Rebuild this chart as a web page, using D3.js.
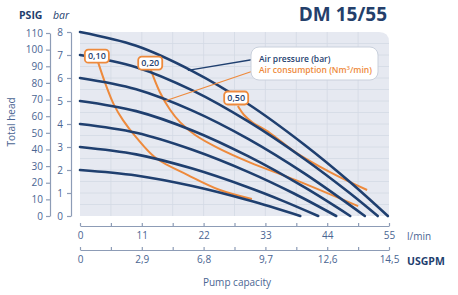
<!DOCTYPE html>
<html>
<head>
<meta charset="utf-8">
<script src="https://cdn.jsdelivr.net/npm/d3@7"></script>
<style>
  body { margin: 0; background: #fff; }
  svg { display: block; font-family: "Open Sans", "Noto Sans", sans-serif; }
</style>
</head>
<body>
<div id="chart"></div>
<script>
// ---------- data ----------
const barTicks = [0, 1, 2, 3, 4, 5, 6, 7, 8];
const psigTicks = [0, 10, 20, 30, 40, 50, 60, 70, 80, 90, 100, 110];
const lminTicks = [0, 11, 22, 33, 44, 55];
const usgpmLabels = ["0", "2,9", "6,8", "9,7", "12,6", "14,5"];

// air pressure curves (l/min, bar)
const p2 = [[0, 2], [10, 1.76], [20, 1.3], [30, 0.68], [39.2, 0]];
const p3 = [[0, 3], [10, 2.68], [20, 2.06], [30, 1.24], [36, 0.67], [42.4, 0]];
const p4 = [[0, 4], [10, 3.62], [20, 2.88], [30, 1.91], [38, 0.99], [45.6, 0]];
const p5 = [[0, 5], [10, 4.56], [20, 3.72], [30, 2.59], [40, 1.24], [48.1, 0]];
const p6 = [[0, 6], [10, 5.51], [20, 4.58], [30, 3.34], [40, 1.84], [50.7, 0]];
const p7 = [[0, 7], [10, 6.47], [20, 5.46], [30, 4.1], [40, 2.47], [48, 1.0], [53, 0]];
const p8 = [[0, 8], [10, 7.4], [20, 6.3], [30, 4.86], [40, 3.09], [48, 1.49], [54.8, 0]];
const pressureCurves = [p2, p3, p4, p5, p6, p7, p8];

// air consumption curves (Nm3/min)
const c010 = [[3.2, 6.7], [4.6, 5.7], [6.05, 4.83], [7.65, 4.17], [9.97, 3.43], [13.5, 2.52], [19.2, 1.78], [24.9, 1.13], [30.6, 0.74]];
const c020 = [[12.6, 6.35], [14.2, 5.39], [16.0, 4.63], [17.8, 4.08], [20.5, 3.52], [24.6, 2.95], [30.3, 2.32], [38.3, 1.57], [49.5, 0.43]];
const c050 = [[28.1, 4.78], [29.2, 4.39], [30.6, 4.09], [33.8, 3.61], [38.3, 2.78], [44.5, 1.91], [51.1, 1.13]];
const consumptionCurves = [c010, c020, c050];
const consumptionLabels = ["0,10", "0,20", "0,50"];
const consumptionLabelPos = [[3.0, 6.95], [12.5, 6.65], [27.8, 5.13]];

// ---------- layout ----------
const W = 458, H = 295;
const navy = "#1f3f6f", orange = "#ee8a3c", steel = "#4a6592", axisCol = "#8d9cb6";

const svg = d3.select("#chart").append("svg").attr("width", W).attr("height", H);

const x = d3.scaleLinear().domain([0, 55]).range([80, 389]);
const y = d3.scaleLinear().domain([0, 8]).range([216, 32]);
const yPsig = d3.scaleLinear().domain([0, 110]).range([216, 33]);

// plot background with rounded top-right corner
const x0 = x(0), x1 = x(55), yTop = y(8), yBot = y(0), r = 10;
svg.append("path")
  .attr("d", `M${x0},${yBot} V${yTop} H${x1 - r} Q${x1},${yTop} ${x1},${yTop + r} V${yBot} Z`)
  .attr("fill", "#e6e9f1");

// grid
const grid = svg.append("g").attr("stroke", "#d3d9e5").attr("stroke-width", 0.8);
grid.selectAll("line.v").data(d3.range(1, 10).map(i => i * 5.5)).enter().append("line")
  .attr("x1", d => x(d)).attr("x2", d => x(d)).attr("y1", yTop).attr("y2", yBot);
grid.selectAll("line.h").data(d3.range(1, 16).map(i => i * 0.5)).enter().append("line")
  .attr("x1", x0).attr("x2", x1).attr("y1", d => y(d)).attr("y2", d => y(d));

// curves
const line = d3.line().x(d => x(d[0])).y(d => y(d[1])).curve(d3.curveCatmullRom.alpha(0.5));

svg.append("g").selectAll("path").data(consumptionCurves).enter().append("path")
  .attr("d", line).attr("fill", "none").attr("stroke", orange).attr("stroke-width", 2);

svg.append("g").selectAll("path").data(pressureCurves).enter().append("path")
  .attr("d", line).attr("fill", "none").attr("stroke", navy).attr("stroke-width", 2.6)
  .attr("stroke-linecap", "round");

// consumption labels
const lab = svg.append("g").selectAll("g").data(consumptionLabels).enter().append("g")
  .attr("transform", (d, i) => `translate(${x(consumptionLabelPos[i][0])},${y(consumptionLabelPos[i][1])})`);
lab.append("rect").attr("x", -12).attr("y", -6.5).attr("width", 24).attr("height", 13).attr("rx", 3.5)
  .attr("fill", "#fff").attr("stroke", orange).attr("stroke-width", 1.8);
lab.append("text").text(d => d).attr("text-anchor", "middle").attr("dy", "0.35em")
  .attr("font-size", 9).attr("font-weight", 600).attr("fill", navy);

// legend with leader lines
svg.append("line").attr("x1", x(19.2)).attr("y1", y(6.33)).attr("x2", 256).attr("y2", 59)
  .attr("stroke", navy).attr("stroke-width", 1.3);
svg.append("line").attr("x1", x(15.1)).attr("y1", y(5.0)).attr("x2", 256).attr("y2", 70)
  .attr("stroke", orange).attr("stroke-width", 1.3);
svg.append("rect").attr("x", 251).attr("y", 47).attr("width", 127).attr("height", 33).attr("rx", 8)
  .attr("fill", "#fff").attr("stroke", "#c9d0dc").attr("stroke-width", 1);
svg.append("text").attr("x", 259).attr("y", 62).attr("font-size", 8.5).attr("font-weight", 600)
  .attr("fill", navy).text("Air pressure (bar)");
const t2 = svg.append("text").attr("x", 259).attr("y", 73).attr("font-size", 8.5).attr("font-weight", 600)
  .attr("fill", orange);
t2.append("tspan").text("Air consumption (Nm");
t2.append("tspan").attr("font-size", 6).attr("dy", -3).text("3");
t2.append("tspan").attr("dy", 3).text("/min)");

// y axes
function styleAxis(g) {
  g.select(".domain").attr("stroke", axisCol).attr("stroke-width", 1.2);
  g.selectAll(".tick line").attr("stroke", axisCol).attr("stroke-width", 1.2);
  g.selectAll(".tick text").attr("fill", steel).attr("font-size", 10)
    .attr("font-family", "'Open Sans', 'Noto Sans', sans-serif");
}
svg.append("g").attr("transform", "translate(71,0)")
  .call(d3.axisLeft(y).tickValues(barTicks).tickSize(4).tickPadding(4).tickSizeOuter(0))
  .call(styleAxis);
svg.append("g").attr("transform", "translate(50,0)")
  .call(d3.axisLeft(yPsig).tickValues(psigTicks).tickSize(4).tickPadding(3).tickSizeOuter(0))
  .call(styleAxis);

// x axes
const xMinor = d3.range(0, 11).map(i => i * 5.5);
svg.append("g").attr("transform", "translate(0,226)")
  .call(d3.axisBottom(x).tickValues(xMinor).tickSize(-3).tickPadding(6).tickSizeOuter(0)
    .tickFormat(d => lminTicks.includes(Math.round(d * 10) / 10) ? d : ""))
  .call(styleAxis);
svg.append("g").attr("transform", "translate(0,250)")
  .call(d3.axisBottom(x).tickValues(xMinor).tickSize(-3).tickPadding(6).tickSizeOuter(0)
    .tickFormat(d => { const i = lminTicks.indexOf(Math.round(d * 10) / 10); return i >= 0 ? usgpmLabels[i] : ""; }))
  .call(styleAxis);

// titles and units
svg.append("text").attr("x", 387).attr("y", 21).attr("text-anchor", "end")
  .attr("font-size", 19).attr("font-weight", 700).attr("fill", "#243f6b").text("DM 15/55");
svg.append("text").attr("x", 19).attr("y", 19).attr("font-size", 10.5).attr("font-weight", 700)
  .attr("fill", navy).text("PSIG");
svg.append("text").attr("x", 53).attr("y", 19).attr("font-size", 10.5).attr("font-style", "italic")
  .attr("fill", navy).text("bar");
svg.append("text").attr("x", 407).attr("y", 240).attr("font-size", 10).attr("fill", steel).text("l/min");
svg.append("text").attr("x", 407).attr("y", 265).attr("font-size", 10.5).attr("font-weight", 700)
  .attr("fill", navy).text("USGPM");
svg.append("text").attr("x", 237).attr("y", 286).attr("text-anchor", "middle").attr("font-size", 10)
  .attr("fill", steel).text("Pump capacity");
svg.append("text").attr("transform", "translate(15,122) rotate(-90)").attr("text-anchor", "middle")
  .attr("font-size", 10).attr("fill", steel).text("Total head");
</script>
</body>
</html>
